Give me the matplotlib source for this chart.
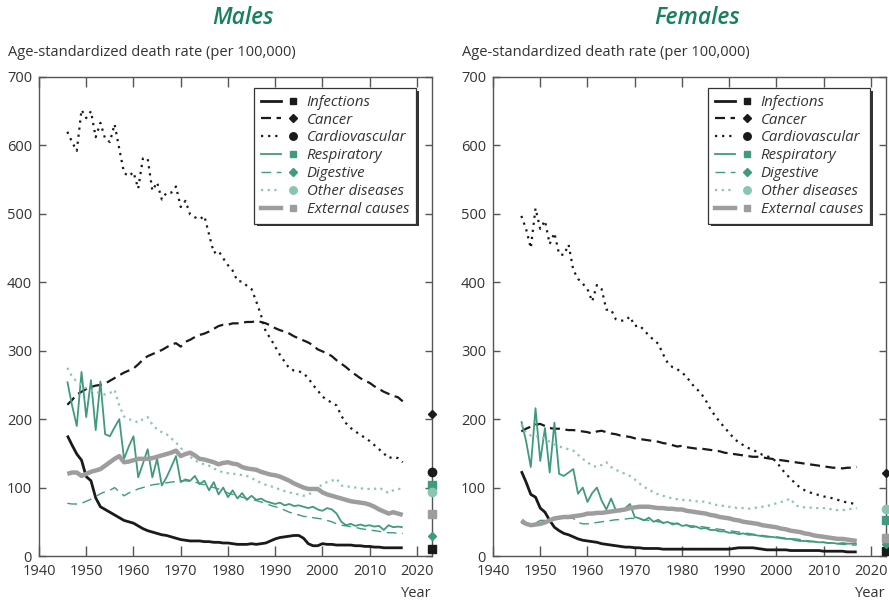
import matplotlib
matplotlib.use("Agg")
import matplotlib.pyplot as plt
from matplotlib.lines import Line2D
from matplotlib.legend_handler import HandlerTuple

plt.rcParams['font.family'] = ['Open Sans', 'DejaVu Sans']

years = list(range(1946, 2018))

# males, age-standardized death rates per 100,000
m_infections = [176, 162, 149, 140, 116, 110, 85, 72, 68, 64, 60, 56, 52, 50, 48, 44, 40, 37, 35, 33,
                31, 30, 28, 26, 24, 23, 22, 22, 22, 21, 21, 20, 20, 19, 19, 18, 17, 17, 17, 18,
                17, 18, 19, 22, 25, 27, 28, 29, 30, 30, 26, 18, 15, 15, 18, 17, 17, 16, 16, 16,
                16, 15, 15, 14, 14, 13, 13, 12, 12, 12, 12, 12]
m_cancer = [221, 228, 236, 240, 244, 247, 249, 250, 252, 256, 260, 264, 268, 271, 274, 280, 287, 292, 295, 298,
            301, 305, 309, 311, 306, 313, 316, 320, 323, 325, 328, 332, 336, 338, 338, 340, 340, 341, 342, 342,
            343, 342, 340, 337, 333, 330, 328, 325, 321, 318, 315, 312, 308, 302, 299, 296, 292, 286, 281, 276,
            270, 265, 260, 256, 253, 248, 244, 240, 237, 234, 232, 226]
m_cardio = [620, 605, 592, 652, 640, 650, 612, 633, 610, 605, 631, 595, 560, 555, 561, 537, 581, 581, 534, 546,
            521, 531, 531, 540, 510, 519, 499, 495, 492, 497, 470, 443, 446, 435, 425, 417, 402, 401, 395, 390,
            372, 352, 328, 318, 306, 294, 284, 274, 271, 270, 267, 260, 250, 242, 233, 228, 224, 220, 205, 194,
            187, 182, 177, 173, 168, 162, 156, 150, 143, 145, 143, 137]
m_respiratory = [255, 220, 190, 269, 203, 257, 184, 255, 178, 175, 188, 200, 142, 160, 175, 115, 135, 156, 115, 142,
                 103, 115, 130, 146, 108, 112, 110, 117, 105, 110, 96, 108, 90, 100, 86, 96, 84, 92, 82, 88,
                 82, 84, 80, 78, 76, 78, 74, 76, 73, 74, 72, 70, 72, 68, 66, 70, 68, 62, 50, 45,
                 47, 44, 46, 44, 45, 43, 44, 38, 45, 42, 43, 42]
m_digestive = [77, 76, 76, 77, 80, 83, 87, 91, 94, 96, 100, 94, 88, 92, 95, 98, 100, 102, 104, 105,
               106, 107, 108, 109, 110, 110, 109, 108, 106, 104, 102, 100, 98, 95, 92, 90, 88, 86, 84, 83,
               81, 79, 77, 74, 72, 70, 67, 64, 62, 60, 58, 57, 56, 55, 54, 52, 50, 47, 45, 44,
               43, 42, 40, 39, 38, 37, 36, 35, 34, 34, 33, 33]
m_other = [275, 262, 255, 250, 245, 242, 240, 238, 236, 238, 243, 220, 204, 200, 198, 195, 200, 203, 192, 185,
           181, 178, 172, 166, 158, 150, 145, 140, 136, 134, 132, 128, 125, 122, 121, 120, 120, 118, 117, 114,
           110, 107, 104, 102, 100, 97, 95, 93, 91, 90, 88, 90, 93, 99, 105, 108, 110, 113, 103, 102,
           101, 100, 99, 98, 98, 98, 100, 96, 92, 96, 98, 98]
m_external = [120, 122, 122, 117, 120, 123, 125, 127, 132, 137, 142, 146, 137, 138, 140, 142, 142, 142, 143, 145,
              147, 149, 151, 154, 146, 149, 151, 147, 142, 141, 139, 137, 134, 136, 137, 135, 134, 130, 128, 127,
              126, 123, 121, 119, 118, 116, 113, 110, 106, 103, 100, 98, 98, 98, 93, 90, 88, 86, 84, 82,
              80, 79, 78, 77, 75, 72, 68, 65, 62, 64, 62, 60]

# females
f_infections = [124, 108, 90, 86, 70, 64, 52, 42, 37, 33, 31, 28, 25, 23, 22, 21, 20, 18, 17, 16,
                15, 14, 13, 13, 12, 12, 11, 11, 11, 11, 10, 10, 10, 10, 10, 10, 10, 10, 10, 10,
                10, 10, 10, 10, 10, 11, 12, 12, 12, 12, 11, 10, 9, 9, 9, 9, 9, 8, 8, 8,
                8, 8, 8, 8, 7, 7, 7, 7, 7, 6, 6, 6]
f_cancer = [182, 186, 189, 192, 193, 190, 187, 186, 186, 185, 184, 184, 183, 182, 181, 179, 182, 183, 181, 179,
            178, 176, 175, 174, 172, 171, 170, 169, 168, 167, 165, 164, 162, 160, 161, 159, 158, 157, 157, 156,
            155, 154, 153, 151, 150, 149, 148, 147, 146, 145, 145, 144, 143, 142, 141, 140, 139, 138, 137, 136,
            135, 134, 133, 132, 131, 130, 129, 129, 128, 129, 129, 130]
f_cardio = [497, 478, 450, 508, 478, 490, 456, 472, 441, 440, 455, 418, 405, 398, 390, 372, 396, 390, 360, 360,
            346, 344, 344, 350, 336, 337, 330, 322, 316, 310, 295, 282, 276, 273, 268, 262, 252, 245, 238, 228,
            215, 205, 196, 188, 180, 172, 166, 162, 158, 155, 152, 148, 146, 143, 138, 128, 120, 113, 106, 100,
            96, 93, 91, 89, 87, 86, 84, 82, 80, 78, 77, 75]
f_respiratory = [197, 168, 130, 216, 139, 187, 122, 195, 120, 117, 122, 127, 91, 100, 79, 92, 100, 81, 68, 84,
                 67, 65, 70, 76, 57, 55, 52, 56, 50, 53, 48, 50, 46, 48, 44, 45, 42, 43, 40, 41,
                 38, 38, 36, 36, 34, 34, 32, 33, 31, 31, 30, 29, 28, 28, 27, 26, 25, 25, 23, 22,
                 22, 21, 21, 20, 20, 19, 19, 18, 19, 18, 18, 18]
f_digestive = [48, 46, 45, 48, 52, 52, 52, 53, 54, 55, 55, 55, 49, 47, 47, 48, 49, 50, 51, 52,
               53, 53, 54, 55, 55, 54, 53, 52, 51, 50, 49, 48, 48, 47, 46, 45, 44, 44, 43, 42,
               41, 40, 39, 38, 37, 36, 35, 34, 33, 32, 31, 30, 29, 28, 28, 27, 26, 25, 25, 24,
               23, 22, 21, 21, 20, 19, 18, 18, 17, 17, 16, 16]
f_other = [192, 180, 176, 175, 175, 171, 167, 163, 160, 158, 156, 154, 148, 142, 137, 132, 130, 133, 137, 130,
           126, 123, 120, 117, 112, 106, 101, 97, 93, 90, 88, 86, 84, 83, 82, 82, 81, 80, 80, 79,
           77, 75, 74, 73, 72, 71, 70, 70, 69, 70, 71, 72, 73, 75, 77, 79, 81, 84, 74, 72,
           71, 71, 70, 70, 70, 69, 68, 67, 67, 68, 69, 70]
f_external = [52, 47, 45, 46, 47, 49, 52, 55, 56, 57, 57, 58, 59, 60, 62, 62, 63, 63, 64, 65,
              66, 67, 68, 70, 71, 72, 72, 72, 71, 70, 70, 69, 69, 68, 68, 66, 65, 64, 63, 62,
              60, 59, 57, 56, 55, 53, 52, 50, 49, 48, 47, 45, 44, 43, 42, 40, 39, 37, 36, 35,
              33, 32, 30, 29, 28, 27, 26, 25, 25, 24, 23, 22]

# values marked on the right-hand edge (None = not shown)
m_edge = [10, 207, 123, 104, 29, 94, 61]
f_edge = [7, 122, None, 52, 17, 68, 26]

causes = ['Infections', 'Cancer', 'Cardiovascular', 'Respiratory', 'Digestive',
          'Other diseases', 'External causes']

BLACK = '#1a1a1a'
TEAL = '#3f9a7e'
LTEAL = '#8ac5b1'
GREY = '#9d9d9d'
TEXT = '#333333'

styles = [
    dict(color=BLACK, ls='-', lw=2.0, marker='s'),
    dict(color=BLACK, ls=(0, (4.5, 2.5)), lw=1.6, marker='D'),
    dict(color=BLACK, ls=(0, (1, 2.2)), lw=1.6, marker='o'),
    dict(color=TEAL, ls='-', lw=1.3, marker='s'),
    dict(color=TEAL, ls=(0, (7, 4)), lw=1.0, marker='D'),
    dict(color=LTEAL, ls=(0, (1, 2)), lw=1.6, marker='o'),
    dict(color=GREY, ls='-', lw=3.2, marker='s'),
]
marker_size = {'s': 5.5, 'D': 4.5, 'o': 6}

XEND = 2023.2


def draw_panel(ax, series, edge, title):
    for vals, st, ev in zip(series, styles, edge):
        ax.plot(years, vals, color=st['color'], ls=st['ls'], lw=st['lw'],
                solid_capstyle='butt', dash_capstyle='butt')
        if ev is not None:
            ax.plot([XEND], [ev], marker=st['marker'], color=st['color'],
                    ms=marker_size[st['marker']], ls='none', clip_on=False, zorder=5)

    ax.set_xlim(1940, XEND)
    ax.set_ylim(0, 700)
    ax.set_xticks(range(1940, 2030, 10))
    ax.set_yticks(range(0, 800, 100))
    for sp in ax.spines.values():
        sp.set_color('#555555')
        sp.set_linewidth(1.0)
    ax.tick_params(axis='x', direction='in', length=7, width=1, color='#555555',
                   top=True, labelsize=10.5, labelcolor=TEXT, pad=6)
    ax.tick_params(axis='y', direction='in', length=5, width=1, color='#555555',
                   right=True, labelsize=10.5, labelcolor=TEXT, pad=5)

    handles = []
    for st in styles:
        ln = Line2D([], [], color=st['color'], ls=st['ls'], lw=st['lw'])
        mk = Line2D([], [], color=st['color'], marker=st['marker'], ls='none',
                    ms=marker_size[st['marker']] * 0.9)
        handles.append((ln, mk))
    leg = ax.legend(handles, causes, handler_map={tuple: HandlerTuple(ndivide=2, pad=0.1)},
                    loc='upper right', bbox_to_anchor=(0.959, 0.977), borderaxespad=0,
                    handlelength=2.8, handletextpad=0.25, labelspacing=0.19, borderpad=0.45,
                    fancybox=False, shadow={'color': '0.2', 'alpha': 1, 'lw': 0},
                    prop={'style': 'italic', 'size': 10.8})
    leg.get_frame().set_edgecolor('#333333')
    leg.get_frame().set_linewidth(0.9)
    for t in leg.get_texts():
        t.set_color(TEXT)

    ax.text(0.52, 1.123, title, transform=ax.transAxes, ha='center', va='center',
            fontsize=16.5, fontweight='semibold', style='italic', color='#17805e')
    ax.text(-0.079, 1.052, 'Age-standardized death rate (per 100,000)', transform=ax.transAxes,
            ha='left', va='center', fontsize=10.5, color=TEXT)
    ax.text(1.0, -0.079, 'Year', transform=ax.transAxes, ha='right', va='center',
            fontsize=10.5, color=TEXT)


fig = plt.figure(figsize=(8.89, 6.01), dpi=100)
ax_m = fig.add_axes([39 / 889, 45 / 601, 393 / 889, 479 / 601])
ax_f = fig.add_axes([493 / 889, 45 / 601, 393 / 889, 479 / 601])

draw_panel(ax_m, [m_infections, m_cancer, m_cardio, m_respiratory, m_digestive, m_other, m_external],
           m_edge, 'Males')
draw_panel(ax_f, [f_infections, f_cancer, f_cardio, f_respiratory, f_digestive, f_other, f_external],
           f_edge, 'Females')

fig.savefig('out.png', dpi=100)
